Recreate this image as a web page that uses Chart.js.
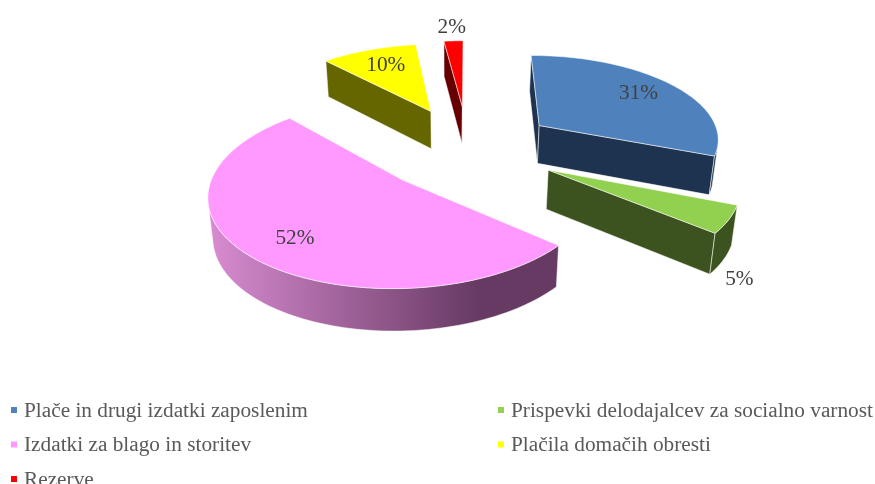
<!DOCTYPE html>
<html>
<head>
<meta charset="utf-8">
<script src="https://cdn.jsdelivr.net/npm/chart.js@4/dist/chart.umd.js"></script>
<style>html,body{margin:0;padding:0;background:#fff}canvas{display:block}</style>
</head>
<body>
<canvas id="c" width="875" height="484"></canvas>
<script>
const categories = ['Plače in drugi izdatki zaposlenim','Prispevki delodajalcev za socialno varnost','Izdatki za blago in storitev','Plačila domačih obresti','Rezerve'];
const values = [31, 5, 52, 10, 2];
const explode = [57.4, 58, 58.3, 59.5, 61];
const topColors = ['#4f81bd','#92d050','#ff99ff','#ffff00','#ff0000'];
const sideColors = ['#1d3350','#3c531f','#673a63','#666600','#660000'];
const paintOrder = [3, 4, 0, 1, 2];
const labelRadius = [0.72, 1.07, 0.72, 0.72, 1.1];
const labelShift = [[3,-2],[-3,56],[-1,5],[1,-1],[-1,-8]];

const view = {radius:163, focal:1240, xScale:1.12, yScale:0.52, depth:38.5, lean:0.02, leanX:450};
const legendGrid = {cols:[11,498], rows:[416.5,451,485.5], gap:13, box:6};

function projectAt(el, base, radial, a){
  const s = view.radius / el.outerRadius;
  const X = (base.x + Math.cos(a) * radial) * s, Y = -(base.y + Math.sin(a) * radial) * s;
  const w = 1 + Y / view.focal;
  return {x: el.x + X * view.xScale / w, y: el.y - Y * view.yScale / w, w};
}
function lower(p){
  return {x: p.x - (p.x - view.leanX) * view.lean, y: p.y + view.depth / Math.sqrt(p.w), w: p.w};
}
function area(pts){
  let t = 0;
  pts.forEach((p,i)=>{const q = pts[(i+1)%pts.length]; t += p.x*q.y - q.x*p.y;});
  return t;
}
function poly(ctx, pts, fill){
  ctx.beginPath();
  pts.forEach((p,i)=> i ? ctx.lineTo(p.x,p.y) : ctx.moveTo(p.x,p.y));
  ctx.closePath();
  ctx.fillStyle = fill; ctx.fill();
  ctx.lineWidth = 0.7; ctx.strokeStyle = 'rgba(255,255,255,0.75)'; ctx.lineJoin='round'; ctx.stroke();
}
function sliceGeometry(el){
  const off = el.options.offset;
  const mid = (el.startAngle + el.endAngle) / 2;
  const base = {x: Math.cos(mid)*off, y: Math.sin(mid)*off};
  const n = Math.max(4, Math.ceil((el.endAngle - el.startAngle) / 0.03));
  const rim = [];
  for (let i=0;i<=n;i++){
    const a = el.startAngle + (el.endAngle-el.startAngle)*i/n;
    rim.push(projectAt(el, base, el.outerRadius, a));
  }
  return {apex: projectAt(el, base, 0, 0), rim, base, mid};
}
const pie3d = {
  id:'pie3d',
  beforeDatasetsDraw(chart){
    const ctx = chart.ctx, arcs = chart.getDatasetMeta(0).data;
    ctx.save();
    paintOrder.forEach(i=>{
      const el = arcs[i], g = sliceGeometry(el), side = sideColors[i];
      const A = g.apex, A2 = lower(A), P0 = g.rim[0], Pe = g.rim[g.rim.length-1];
      const startFace = [A,P0,lower(P0),A2], endFace = [A,Pe,lower(Pe),A2];
      if (area(startFace) < 0) poly(ctx,startFace,side);
      if (area(endFace) > 0) poly(ctx,endFace,side);
      let run = [];
      const flush = ()=>{
        if (run.length>1){
          const face = run.concat(run.slice().reverse().map(lower));
          let fill = side;
          if (i===2){
            const gr = ctx.createLinearGradient(207,0,477,0);
            gr.addColorStop(0,'#d98cd2'); gr.addColorStop(1,side); fill = gr;
          }
          poly(ctx,face,fill);
        }
        run = [];
      };
      for (let k=0;k<g.rim.length-1;k++){
        const p=g.rim[k], q=g.rim[k+1];
        if (area([p,q,lower(q),lower(p)])<0){ if(!run.length) run.push(p); run.push(q);} else flush();
      }
      flush();
      poly(ctx,[A].concat(g.rim),topColors[i]);
    });
    ctx.font = '21.3px "Liberation Serif"';
    ctx.textAlign='center'; ctx.textBaseline='middle'; ctx.fillStyle='#404040';
    arcs.forEach((el,i)=>{
      const g = sliceGeometry(el);
      const p = projectAt(el,g.base,el.outerRadius*labelRadius[i],g.mid);
      ctx.fillText(values[i]+'%', p.x+labelShift[i][0], p.y+labelShift[i][1]);
    });
    ctx.textAlign='left'; ctx.textBaseline='alphabetic';
    categories.forEach((t,i)=>{
      const col = legendGrid.cols[i%2], y = legendGrid.rows[Math.floor(i/2)];
      ctx.fillStyle = topColors[i];
      ctx.fillRect(col, y-9.5, legendGrid.box, legendGrid.box);
      ctx.fillStyle = '#595959';
      ctx.fillText(t, col+legendGrid.gap, y);
    });
    ctx.restore();
    return false;
  }
};
new Chart(document.getElementById('c'),{
  type:'pie',
  data:{labels:categories,datasets:[{data:values,backgroundColor:topColors,borderWidth:0,offset:explode}]},
  options:{
    responsive:false,animation:false,
    layout:{padding:{left:61,right:0,top:0,bottom:188}},
    plugins:{legend:{display:false},tooltip:{enabled:false}}
  },
  plugins:[pie3d]
});
</script>
</body>
</html>
